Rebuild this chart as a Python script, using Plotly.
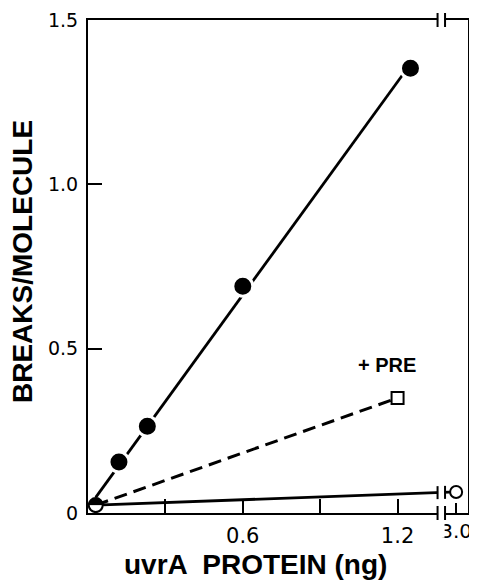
import numpy as np
import plotly.graph_objects as go

# ---------------- data ----------------
uvra_x = [0.03, 0.12, 0.23, 0.6, 1.25]          # uvrA protein (ng), filled circles
uvra_y = [0.024, 0.155, 0.264, 0.69, 1.353]     # breaks / molecule
pre_x = [0.03, 1.2]                              # +PRE, open squares
pre_y = [0.024, 0.35]
ctrl_x = [0.03, 3.0]                             # open circles
ctrl_y = [0.024, 0.064]

y_tickvals = [0, 0.5, 1.0, 1.5]
y_ticktext = ["0", "0.5", "1.0", "1.5"]
x_tickvals = [0.3, 0.6, 0.9, 1.2]
x_ticktext = ["", "0.6", "", "1.2"]
x_break_tickvals = [3.0]
x_break_ticktext = ["3.0"]

# ---------------- broken x axis mapping ----------------
BREAK_LO = 1.355      # display position of left break bar
BREAK_HI = 1.384      # display position of right break bar
X_MAX = 1.473
BREAK_ANCHOR = 1.427  # display position of 3.0


def disp(x):
    x = np.asarray(x, dtype=float)
    return np.where(x <= BREAK_LO, x, BREAK_ANCHOR + (x - 3.0) * 0.5)


# page has an 8px body margin; position the figure so the plot area lands right
PAGE_OFF = 8
W, H = 477, 580 - PAGE_OFF
PLOT_L, PLOT_R, PLOT_T, PLOT_B = 88, 468, 20, 513     # in page pixels
ML, MR, MT, MB = PLOT_L - PAGE_OFF, (W + PAGE_OFF) - PLOT_R, PLOT_T - PAGE_OFF, 67
PLOT_W = PLOT_R - PLOT_L
PLOT_H = PLOT_B - PLOT_T
Y_RANGE = [0, 1.5]
PX_PER_Y = PLOT_H / (Y_RANGE[1] - Y_RANGE[0])

BLACK = "#000000"
FONT = "Liberation Sans, Arial, sans-serif"
TICKFONT = "DejaVu Sans, sans-serif"

fig = go.Figure()

# least-squares line for the filled-circle series
slope, icpt = np.polyfit(uvra_x, uvra_y, 1)
fit_x = np.array([uvra_x[0], uvra_x[-1]])
fig.add_trace(go.Scatter(x=disp(fit_x), y=slope * fit_x + icpt, mode="lines",
                         line=dict(color=BLACK, width=2.8), showlegend=False, hoverinfo="skip"))

# +PRE dashed line
fig.add_trace(go.Scatter(x=disp(pre_x), y=pre_y, mode="lines",
                         line=dict(color=BLACK, width=3, dash="13px,7px"),
                         showlegend=False, hoverinfo="skip"))

# control line (through the break)
fig.add_trace(go.Scatter(x=disp(ctrl_x), y=ctrl_y, mode="lines",
                         line=dict(color=BLACK, width=2.8), showlegend=False, hoverinfo="skip"))

# filled circles (except the origin point)
fig.add_trace(go.Scatter(x=disp(uvra_x[1:]), y=uvra_y[1:], mode="markers",
                         marker=dict(symbol="circle", size=20, color=BLACK,
                                     line=dict(color="white", width=3)),
                         showlegend=False))

# +PRE square
fig.add_trace(go.Scatter(x=disp(pre_x[1:]), y=pre_y[1:], mode="markers",
                         marker=dict(symbol="square", size=12, color="white",
                                     line=dict(color=BLACK, width=2)),
                         showlegend=False))

# control open circle at 3.0
fig.add_trace(go.Scatter(x=disp(ctrl_x[1:]), y=ctrl_y[1:], mode="markers", xaxis="x2",
                         marker=dict(symbol="circle", size=12, color="white",
                                     line=dict(color=BLACK, width=2)),
                         showlegend=False))

# origin: half-filled circle (filled point over open point)
SZ0 = 14
fig.add_trace(go.Scatter(x=disp(uvra_x[:1]), y=uvra_y[:1], mode="markers",
                         marker=dict(symbol="circle", size=SZ0, color=BLACK, line=dict(width=0)),
                         showlegend=False))
fig.add_trace(go.Scatter(x=disp(ctrl_x[:1]), y=[ctrl_y[0] - (SZ0 / 2) / PX_PER_Y], mode="markers",
                         marker=dict(symbol="square", size=SZ0, color="white", line=dict(width=0)),
                         showlegend=False))
fig.add_trace(go.Scatter(x=disp(ctrl_x[:1]), y=ctrl_y[:1], mode="markers",
                         marker=dict(symbol="circle-open", size=SZ0, color=BLACK,
                                     line=dict(color=BLACK, width=2)),
                         showlegend=False))

# ---------------- break marks ----------------
shapes = []
shapes.append(dict(type="rect", xref="x", yref="paper", x0=BREAK_LO + 0.002, x1=BREAK_HI - 0.002,
                   y0=-0.05, y1=1.05, fillcolor="white", line=dict(width=0), layer="above"))
bar_half = 7 / PLOT_H
ctrl_disp_x = disp(ctrl_x)
for bx in (BREAK_LO, BREAK_HI):
    for py in (0.0, 1.0):
        shapes.append(dict(type="line", xref="x", yref="paper", x0=bx, x1=bx,
                           y0=py - bar_half, y1=py + bar_half,
                           line=dict(color=BLACK, width=2), layer="above"))
    ly = float(np.interp(bx, ctrl_disp_x, ctrl_y))
    shapes.append(dict(type="line", xref="x", yref="y", x0=bx, x1=bx,
                       y0=ly - 6.5 / PX_PER_Y, y1=ly + 6.5 / PX_PER_Y,
                       line=dict(color=BLACK, width=2), layer="above"))

annotations = [
    dict(text="<b>+ PRE</b>", x=float(disp(pre_x[1:])[0]) - 0.04, y=pre_y[1] + 0.1,
         xref="x", yref="y", showarrow=False, font=dict(family=FONT, size=20, color=BLACK)),
    dict(text="<b>uvrA  PROTEIN (ng)</b>", x=(255 - PLOT_L) / PLOT_W, y=-(564 - PLOT_B) / PLOT_H,
         xref="paper", yref="paper", xanchor="center", yanchor="middle", showarrow=False,
         font=dict(family=FONT, size=28, color=BLACK)),
    dict(text="<b>BREAKS/MOLECULE</b>", x=(22 - PLOT_L) / PLOT_W, y=(PLOT_B - 262) / PLOT_H,
         xref="paper", yref="paper", xanchor="center", yanchor="middle", textangle=-90,
         showarrow=False, font=dict(family=FONT, size=28, color=BLACK)),
]

axis_common = dict(showgrid=False, zeroline=False, ticks="inside", tickwidth=2, tickcolor=BLACK,
                   automargin=False)
x_tickfont = dict(family=TICKFONT, size=21, color=BLACK)
x2_tickfont = dict(family=TICKFONT, size=20, color=BLACK)
y_tickfont = dict(family=TICKFONT, size=19, color=BLACK)

fig.update_layout(
    width=W, height=H, autosize=False,
    margin=dict(l=ML, r=MR, t=MT, b=MB),
    paper_bgcolor="white", plot_bgcolor="white",
    showlegend=False,
    xaxis=dict(range=[0, X_MAX], showline=True, linewidth=2, linecolor=BLACK, mirror=True,
               ticklen=14, tickvals=x_tickvals, ticktext=x_ticktext, tickfont=x_tickfont,
               ticklabelstandoff=3, **axis_common),
    xaxis2=dict(range=[0, X_MAX], overlaying="x", anchor="y", side="bottom", showline=False,
                ticklen=10, tickvals=list(disp(x_break_tickvals)), ticktext=x_break_ticktext,
                tickfont=x2_tickfont, ticklabelstandoff=4, **axis_common),
    yaxis=dict(range=Y_RANGE, showline=True, linewidth=2, linecolor=BLACK, mirror=True,
               ticklen=14, tickvals=y_tickvals, ticktext=y_ticktext, tickfont=y_tickfont,
               ticklabelstandoff=4, **axis_common),
    shapes=shapes,
    annotations=annotations,
)

fig.write_html(
    "out.html",
    post_script="document.documentElement.style.overflow='hidden';"
                "document.body.style.overflow='hidden';",
)
